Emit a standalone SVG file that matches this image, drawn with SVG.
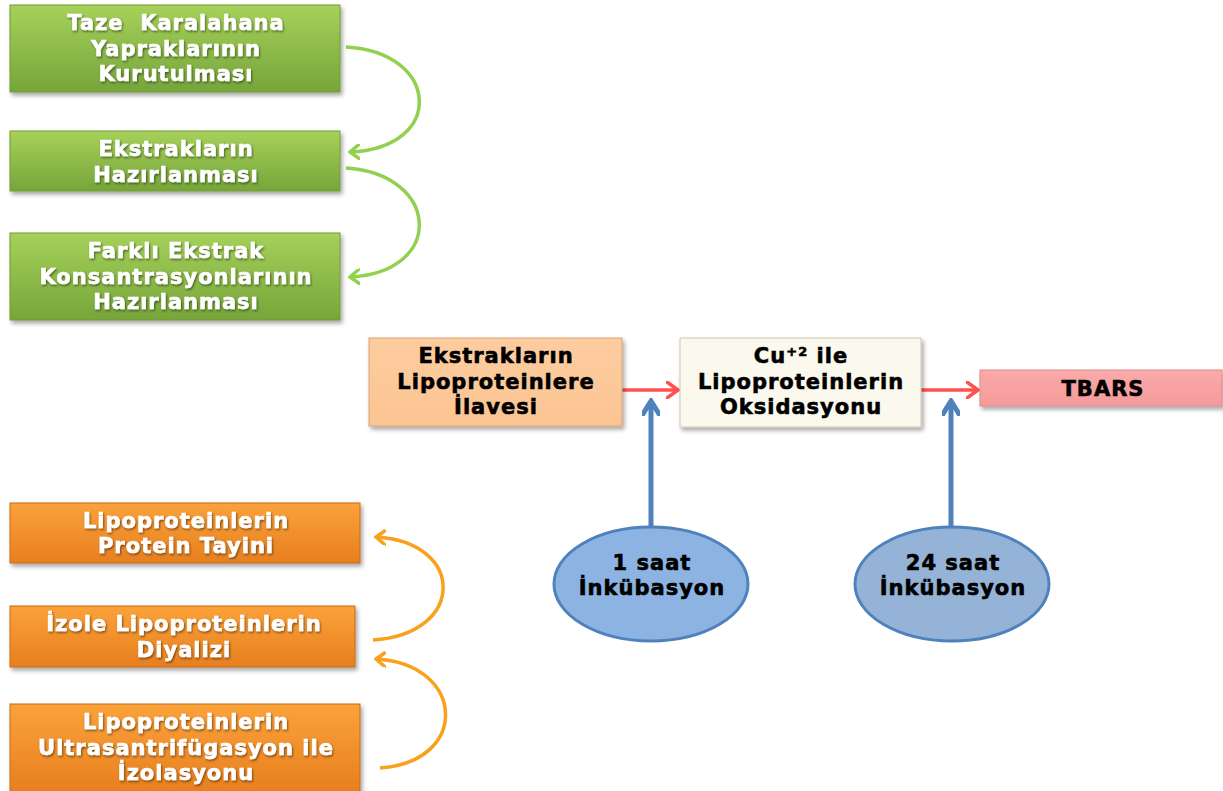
<svg xmlns="http://www.w3.org/2000/svg" width="1223" height="791" viewBox="0 0 1223 791">
<defs>
<linearGradient id="gGreen" x1="0" y1="0" x2="0" y2="1"><stop offset="0" stop-color="#a6d15a"/><stop offset="1" stop-color="#76a53a"/></linearGradient>
<linearGradient id="gOrange" x1="0" y1="0" x2="0" y2="1"><stop offset="0" stop-color="#fba23a"/><stop offset="1" stop-color="#e77f1f"/></linearGradient>
<linearGradient id="gPeach" x1="0" y1="0" x2="0" y2="1"><stop offset="0" stop-color="#fdcc9f"/><stop offset="1" stop-color="#fbc592"/></linearGradient>
<linearGradient id="gPink" x1="0" y1="0" x2="0" y2="1"><stop offset="0" stop-color="#fbaaaa"/><stop offset="1" stop-color="#f49a9a"/></linearGradient>
<filter id="sh" x="-10%" y="-10%" width="120%" height="130%"><feDropShadow dx="2" dy="3" stdDeviation="2" flood-color="#000" flood-opacity="0.35"/></filter>
<filter id="tsh" x="-10%" y="-20%" width="120%" height="150%"><feDropShadow dx="1" dy="1.5" stdDeviation="1" flood-color="#000" flood-opacity="0.5"/></filter>
<marker id="mGreen" markerWidth="12" markerHeight="16" refX="10" refY="8" orient="auto" markerUnits="userSpaceOnUse" viewBox="0 0 12 16"><path d="M1,1 L10,8 L1,15" fill="none" stroke="#92d050" stroke-width="3.5" stroke-linecap="round"/></marker>
<marker id="mOrange" markerWidth="12" markerHeight="16" refX="10" refY="8" orient="auto" markerUnits="userSpaceOnUse" viewBox="0 0 12 16"><path d="M1,1 L10,8 L1,15" fill="none" stroke="#f9a11b" stroke-width="3.5" stroke-linecap="round"/></marker>
<marker id="mRed" markerWidth="14" markerHeight="18" refX="12" refY="9" orient="auto" markerUnits="userSpaceOnUse" viewBox="0 0 14 18"><path d="M1,1 L12,9 L1,17" fill="none" stroke="#ff5050" stroke-width="3.5" stroke-linecap="round"/></marker>
<marker id="mBlue" markerWidth="18" markerHeight="18" refX="15" refY="9" orient="auto" markerUnits="userSpaceOnUse" viewBox="0 0 18 18"><path d="M2,1 L15,9 L2,17" fill="none" stroke="#4f81bd" stroke-width="5" stroke-linecap="round"/></marker>
</defs>
<style>
.t{font-family:"DejaVu Sans",Verdana,sans-serif;font-weight:bold;font-size:21px;letter-spacing:1px;text-anchor:middle;stroke-width:0.6px;white-space:pre}
.w{fill:#ffffff;stroke:#ffffff;filter:url(#tsh)}
.k{fill:#000000;stroke:#000000}
.green{fill:url(#gGreen);stroke:#719c35;stroke-width:1;filter:url(#sh)}
.orange{fill:url(#gOrange);stroke:#c86b16;stroke-width:1;filter:url(#sh)}
</style>
<rect width="1223" height="791" fill="#ffffff"/>
<g id="connectors" fill="none">
<path d="M346,47 C440,52 446,148 350,152" stroke="#92d050" stroke-width="3.5" marker-end="url(#mGreen)"/>
<path d="M346,168 C440,174 446,272 350,277" stroke="#92d050" stroke-width="3.5" marker-end="url(#mGreen)"/>
<path d="M373,640 C466,634 466,542 376,537" stroke="#f9a11b" stroke-width="3.5" marker-end="url(#mOrange)"/>
<path d="M380,768 C470,762 466,664 376,659" stroke="#f9a11b" stroke-width="3.5" marker-end="url(#mOrange)"/>
<path d="M622,390 L678,390" stroke="#ff5050" stroke-width="3.5" marker-end="url(#mRed)"/>
<path d="M921,390 L978,390" stroke="#ff5050" stroke-width="3.5" marker-end="url(#mRed)"/>
<path d="M651,527 L651,401" stroke="#4f81bd" stroke-width="5" marker-end="url(#mBlue)"/>
<path d="M951,527 L951,401" stroke="#4f81bd" stroke-width="5" marker-end="url(#mBlue)"/>
</g>
<g id="n1"><rect class="green" x="10" y="5" width="330" height="87"/>
<text class="t w" x="176" y="30">Taze  Karalahana</text><text class="t w" x="176" y="56">Yapraklarının</text><text class="t w" x="176" y="81">Kurutulması</text></g>
<g id="n2"><rect class="green" x="10" y="131" width="330" height="60"/>
<text class="t w" x="176" y="156">Ekstrakların</text><text class="t w" x="176" y="182">Hazırlanması</text></g>
<g id="n3"><rect class="green" x="10" y="233" width="330" height="87"/>
<text class="t w" x="176" y="258">Farklı Ekstrak</text><text class="t w" x="176" y="284">Konsantrasyonlarının</text><text class="t w" x="176" y="309">Hazırlanması</text></g>
<g id="n4"><rect x="369" y="338" width="253" height="88" fill="url(#gPeach)" stroke="#d9a479" filter="url(#sh)"/>
<text class="t k" x="496" y="363">Ekstrakların</text><text class="t k" x="496" y="389">Lipoproteinlere</text><text class="t k" x="496" y="414">İlavesi</text></g>
<g id="n5"><rect x="680" y="338" width="241" height="89" fill="#fbf9ee" stroke="#cbc7b6" filter="url(#sh)"/>
<text class="t k" x="801" y="363">Cu<tspan font-size="13" dy="-7">+2</tspan><tspan dy="7"> ile</tspan></text><text class="t k" x="801" y="389">Lipoproteinlerin</text><text class="t k" x="801" y="414">Oksidasyonu</text></g>
<g id="n6"><rect x="980" y="370" width="242" height="36" fill="url(#gPink)" stroke="#d98c8c" filter="url(#sh)"/>
<text class="t k" x="1103" y="396">TBARS</text></g>
<g id="n7"><ellipse cx="651" cy="584" rx="97" ry="57" fill="#8db3e2" stroke="#4f81bd" stroke-width="3"/>
<text class="t k" x="652" y="570">1 saat</text><text class="t k" x="652" y="595">İnkübasyon</text></g>
<g id="n8"><ellipse cx="952" cy="584" rx="97" ry="57" fill="#95b3d7" stroke="#4f81bd" stroke-width="3"/>
<text class="t k" x="953" y="570">24 saat</text><text class="t k" x="953" y="595">İnkübasyon</text></g>
<g id="n9"><rect class="orange" x="10" y="503" width="350" height="60"/>
<text class="t w" x="186" y="528">Lipoproteinlerin</text><text class="t w" x="186" y="553">Protein Tayini</text></g>
<g id="n10"><rect class="orange" x="10" y="606" width="345" height="61"/>
<text class="t w" x="184" y="631">İzole Lipoproteinlerin</text><text class="t w" x="184" y="657">Diyalizi</text></g>
<g id="n11"><rect class="orange" x="10" y="704" width="350" height="90"/>
<text class="t w" x="186" y="729">Lipoproteinlerin</text><text class="t w" x="186" y="755">Ultrasantrifügasyon ile</text><text class="t w" x="186" y="780">İzolasyonu</text></g>
</svg>
